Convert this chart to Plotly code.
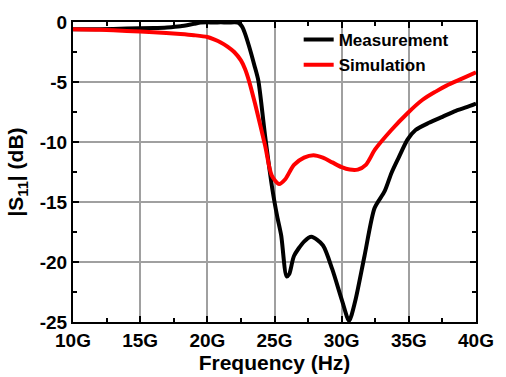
import plotly.graph_objects as go

# Frequency in GHz
freq_meas = [10, 12, 14, 16, 17, 18, 19, 19.5, 20, 20.5, 21, 21.5, 22, 22.3, 22.6, 22.8,
             23.1, 23.5, 23.8, 24.3, 24.85, 25.2, 25.5, 25.9, 26.1, 26.45, 27.2, 27.75,
             28.6, 29.3, 30.05, 30.55, 31.0, 31.7, 32.45, 33.2, 33.7, 34.2, 34.9, 35.5,
             36.5, 37.5, 38.5, 39.3, 40]
s11_meas = [-0.6, -0.6, -0.55, -0.5, -0.45, -0.35, -0.15, -0.05, -0.02, -0.05, -0.02, -0.05, -0.02,
            -0.05, -0.4, -0.95, -2.0, -3.6, -4.9, -9.5, -14.0, -16.2, -17.8, -21.2, -21.0,
            -19.5, -18.3, -17.9, -18.6, -20.6, -23.3, -24.9, -23.3, -19.5, -15.5, -14.1,
            -12.6, -11.4, -9.8, -9.0, -8.4, -7.9, -7.4, -7.1, -6.8]

freq_sim = [10, 12, 14, 16, 18, 19, 20, 20.5, 21, 21.5, 22, 22.5, 22.8, 23.1, 23.55, 24.3,
            24.8, 25.35, 25.8, 26.45, 27.2, 27.9, 28.6, 29.3, 30.0, 30.6, 31.2, 31.8, 32.5,
            33.7, 34.9, 36.0, 37.0, 37.8, 39.0, 40]
s11_sim = [-0.6, -0.65, -0.75, -0.85, -1.0, -1.1, -1.25, -1.45, -1.7, -2.05, -2.5, -3.2,
           -3.9, -4.9, -6.8, -10.3, -12.8, -13.5, -13.1, -11.9, -11.3, -11.1, -11.3, -11.7,
           -12.1, -12.3, -12.3, -11.9, -10.6, -9.0, -7.6, -6.5, -5.8, -5.3, -4.7, -4.2]

x_tick_vals = [10, 15, 20, 25, 30, 35, 40]
x_tick_text = ["10G", "15G", "20G", "25G", "30G", "35G", "40G"]
y_tick_vals = [0, -5, -10, -15, -20, -25]
y_tick_text = ["0", "-5", "-10", "-15", "-20", "-25"]

FONT = "Arial, Liberation Sans, sans-serif"

fig = go.Figure()
fig.add_trace(go.Scatter(x=freq_meas, y=s11_meas, mode="lines", name="Measurement",
                         line=dict(color="black", width=4, shape="spline", smoothing=0.7)))
fig.add_trace(go.Scatter(x=freq_sim, y=s11_sim, mode="lines", name="Simulation",
                         line=dict(color="#ff0000", width=4, shape="spline", smoothing=0.8)))

axis_common = dict(
    showline=True, linecolor="black", linewidth=2, mirror="allticks",
    ticks="inside", ticklen=6, tickwidth=2, tickcolor="black",
    showgrid=True, gridcolor="#a0a0a0", gridwidth=1.5, zeroline=False,
    tickfont=dict(family=FONT, size=19, color="black", weight="bold"),
)

fig.update_xaxes(
    range=[10, 40], tickmode="array", tickvals=x_tick_vals, ticktext=x_tick_text,
    minor=dict(tick0=10, dtick=2.5, ticks="inside", ticklen=4, tickwidth=2,
               tickcolor="black", showgrid=False),
    title=dict(text="Frequency (Hz)", standoff=0,
               font=dict(family=FONT, size=21, color="black", weight="bold")),
    **axis_common,
)
fig.update_yaxes(
    range=[-25, 0], tickmode="array", tickvals=y_tick_vals, ticktext=y_tick_text,
    minor=dict(tick0=0, dtick=2.5, ticks="inside", ticklen=4, tickwidth=2,
               tickcolor="black", showgrid=False),
    title=dict(text="|S<sub>11</sub>| (dB)", standoff=10,
               font=dict(family=FONT, size=21, color="black", weight="bold")),
    **axis_common,
)

fig.update_layout(
    width=506, height=377,
    margin=dict(l=73, r=19, t=16, b=54),
    paper_bgcolor="white", plot_bgcolor="white",
    showlegend=True,
    legend=dict(x=0.56, y=1.0, xanchor="left", yanchor="top",
                bgcolor="rgba(0,0,0,0)", borderwidth=0, tracegroupgap=0,
                font=dict(family=FONT, size=17, color="black", weight="bold")),
)

fig.write_html("out.html")
